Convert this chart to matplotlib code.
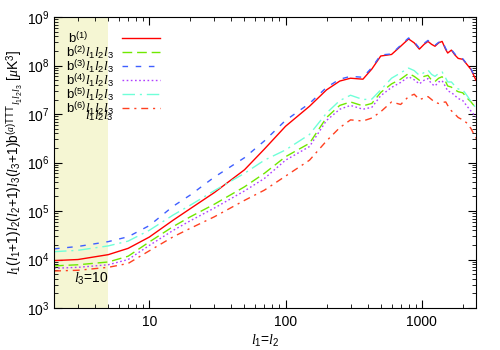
import matplotlib
matplotlib.use("Agg")
import matplotlib.pyplot as plt
from matplotlib.ticker import NullFormatter

plt.rcParams['font.family'] = ['Liberation Sans', 'DejaVu Sans']
plt.rcParams['mathtext.fontset'] = 'custom'
plt.rcParams['mathtext.rm'] = 'Liberation Sans'
plt.rcParams['mathtext.it'] = 'Liberation Serif:italic'
plt.rcParams['mathtext.bf'] = 'Liberation Sans:bold'

# multipole l1 = l2 (l3 = 10)
ell = [2, 3, 5, 7, 10, 15, 20, 30, 50, 70, 100, 150, 200, 250, 300, 370, 430, 500,
       600, 700, 800, 880, 960, 1040, 1110, 1180, 1250, 1330, 1410, 1500, 1550,
       1650, 1750, 1850, 2000, 2150, 2300, 2500]

b1 = [9.5e3, 1.0e4, 1.26e4, 1.7e4, 2.9e4, 6.5e4, 1.12e5, 2.4e5, 7.1e5, 1.9e6, 5.6e6,
      1.45e7, 3.16e7, 4.8e7, 5.5e7, 5.25e7, 8.5e7, 1.58e8, 1.7e8, 2.51e8, 3.55e8,
      2.95e8, 2.19e8, 2.75e8, 3.16e8, 2.75e8, 2.51e8, 2.95e8, 3.16e8, 2.14e8, 1.82e8,
      2.09e8, 1.66e8, 1.41e8, 1.35e8, 1.05e8, 8.3e7, 5.0e7]
b2 = [7.4e3, 7.8e3, 8.9e3, 1.17e4, 2.3e4, 4.8e4, 7.6e4, 1.38e5, 3.16e5, 6.0e5, 1.32e6,
      2.5e6, 8.5e6, 1.51e7, 1.78e7, 1.48e7, 1.66e7, 2.8e7, 4.2e7, 5.25e7, 6.9e7,
      6.0e7, 5.0e7, 6.0e7, 6.3e7, 5.0e7, 4.7e7, 5.5e7, 5.9e7, 4.6e7, 3.8e7,
      3.6e7, 3.16e7, 2.9e7, 2.75e7, 2.14e7, 1.78e7, 1.32e7]
b3 = [1.66e4, 1.86e4, 2.34e4, 2.95e4, 5.0e4, 1.26e5, 2.14e5, 5.0e5, 1.26e6, 2.8e6, 7.4e6,
      1.66e7, 3.55e7, 5.25e7, 6.0e7, 5.75e7, 9.1e7, 1.66e8, 1.74e8, 2.63e8, 3.72e8,
      3.09e8, 2.29e8, 2.88e8, 3.31e8, 2.88e8, 2.63e8, 3.02e8, 3.24e8, 2.24e8, 1.91e8,
      2.14e8, 1.74e8, 1.48e8, 1.38e8, 1.07e8, 8.5e7, 5.25e7]
b4 = [6.6e3, 6.9e3, 7.8e3, 1.0e4, 1.95e4, 4.0e4, 6.3e4, 1.15e5, 2.6e5, 4.7e5, 1.12e6,
      2.14e6, 7.4e6, 1.26e7, 1.51e7, 1.26e7, 1.38e7, 2.4e7, 3.55e7, 4.5e7, 5.9e7,
      5.1e7, 4.2e7, 5.0e7, 5.4e7, 4.2e7, 3.8e7, 4.6e7, 4.9e7, 3.6e7, 3.0e7,
      2.8e7, 2.4e7, 2.1e7, 1.9e7, 1.45e7, 1.15e7, 8.7e6]
b5 = [1.45e4, 1.55e4, 1.91e4, 2.4e4, 4.0e4, 8.3e4, 1.32e5, 2.63e5, 6.0e5, 1.12e6, 1.82e6,
      3.8e6, 1.05e7, 1.9e7, 2.45e7, 2.0e7, 2.04e7, 3.16e7, 5.5e7, 7.1e7, 8.9e7,
      7.9e7, 6.3e7, 7.2e7, 8.1e7, 6.6e7, 6.0e7, 6.9e7, 7.4e7, 5.5e7, 4.6e7,
      4.6e7, 3.8e7, 3.3e7, 3.16e7, 2.4e7, 1.82e7, 1.32e7]
b6 = [5.8e3, 6.0e3, 6.9e3, 8.3e3, 1.51e4, 2.95e4, 4.4e4, 7.6e4, 1.66e5, 2.7e5, 5.25e5,
      1.12e6, 2.8e6, 5.25e6, 7.6e6, 7.2e6, 8.3e6, 1.12e7, 1.78e7, 1.58e7, 2.3e7,
      2.57e7, 2.0e7, 2.14e7, 2.3e7, 2.0e7, 1.74e7, 1.66e7, 1.74e7, 1.78e7, 1.51e7,
      1.17e7, 1.0e7, 8.5e6, 7.6e6, 6.5e6, 5.0e6, 3.16e6]

series = [b1, b2, b3, b4, b5, b6]
colors = ['#ff0000', '#70e800', '#3f5fff', '#b040ff', '#70ffd8', '#ff4020']
dashes = [(), (7, 3.5), (4, 5.5), (1.2, 1.8), (9, 3.5, 1.5, 3.5), (5, 3.5, 1.5, 3.5)]
labels = [r'b$^{(1)}$', r'b$^{(2)}l_1l_2l_3$', r'b$^{(3)}l_1l_2l_3$',
          r'b$^{(4)}l_1l_2l_3$', r'b$^{(5)}l_1l_2l_3$', r'b$^{(6)}l_1l_2l_3$']

fig = plt.figure(figsize=(5, 3.5), dpi=100)
ax = fig.add_axes([0.108, 0.12, 0.844, 0.831])
ax.axvspan(2, 5, color='#f5f6d3', lw=0, zorder=0)

for y, c, d in zip(series, colors, dashes):
    line, = ax.plot(ell, y, color=c, lw=1.0)
    if d:
        line.set_dashes(d)

ax.set_xscale('log')
ax.set_yscale('log')
ax.set_xlim(2, 2500)
ax.set_ylim(1e3, 1e9)
ax.set_xticks([10, 100, 1000])
ax.set_xticklabels(['10', '100', '1000'])
ax.xaxis.set_minor_formatter(NullFormatter())
ax.yaxis.set_minor_formatter(NullFormatter())
ax.tick_params(which='both', direction='in', top=True, right=True, labelsize=10)
ax.tick_params(which='major', length=6)
ax.tick_params(which='minor', length=3)
ax.tick_params(axis='x', pad=5)

ax.set_xlabel(r'$l_1$=$l_2$', fontsize=10, labelpad=3)
ax.set_ylabel(r'$l_1(l_1$+1)$l_2(l_2$+1)$l_3(l_3$+1)b$^{(a)\mathrm{TTT}}$$_{l_1l_2l_3}$ [$\mu$K$^3$]',
              fontsize=10, labelpad=1)

# hand made legend, gnuplot style
rows = [0.929, 0.881, 0.833, 0.784, 0.735, 0.688]
for i, (lab, c, d) in enumerate(zip(labels, colors, dashes)):
    yy = rows[i]
    ln, = ax.plot([0.161, 0.251], [yy, yy], color=c, lw=1.0, transform=ax.transAxes)
    if d:
        ln.set_dashes(d)
    if i == 0:
        ax.text(0.033, yy, lab, transform=ax.transAxes, ha='left', va='center', fontsize=9.5)
    else:
        ax.text(0.142, yy, lab, transform=ax.transAxes, ha='right', va='center', fontsize=9.5)
ax.text(0.142, 0.662, r'$l_1l_2l_3$', transform=ax.transAxes, ha='right', va='center', fontsize=9.5)

ax.text(2.8, 4.0e3, r'$l_3$=10', ha='left', va='center', fontsize=10)

fig.savefig('out.png', dpi=100)
